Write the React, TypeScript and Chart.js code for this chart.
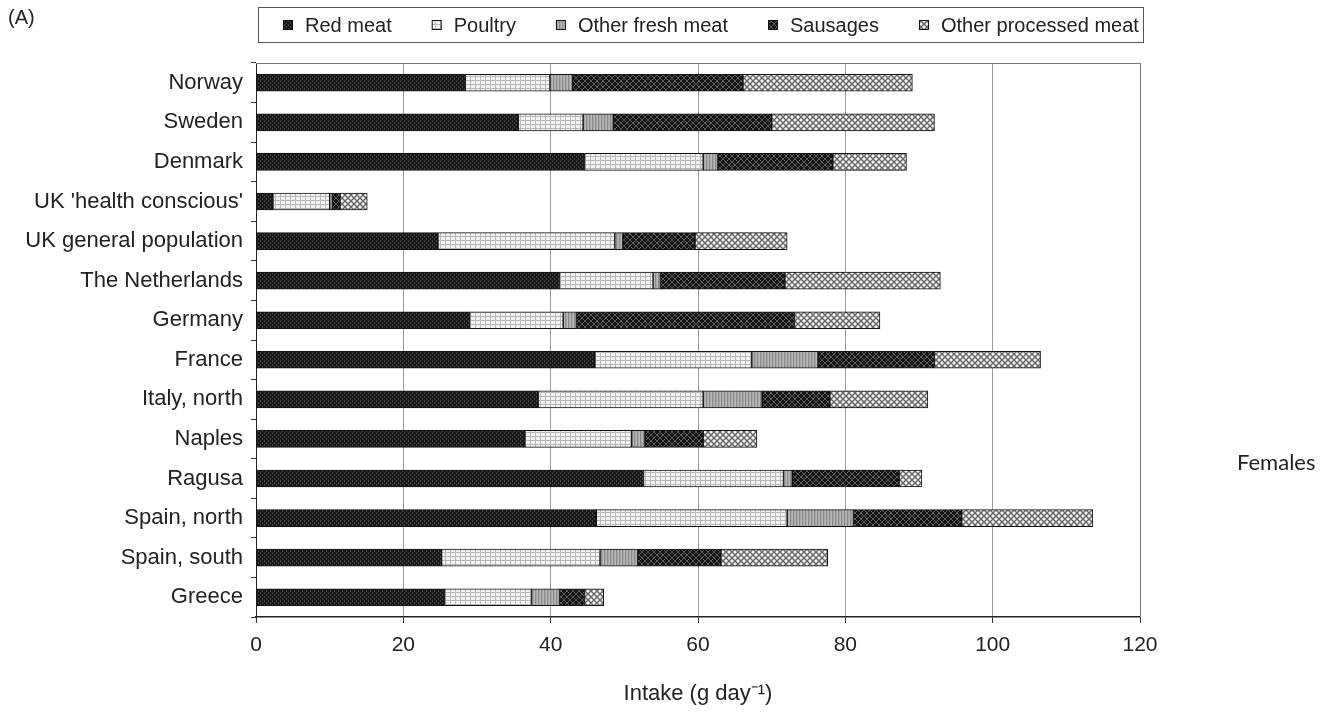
import React, { useEffect, useRef } from "react";
import { Chart, registerables } from "chart.js";

Chart.register(...registerables);

const categories = [
  "Norway",
  "Sweden",
  "Denmark",
  "UK 'health conscious'",
  "UK general population",
  "The Netherlands",
  "Germany",
  "France",
  "Italy, north",
  "Naples",
  "Ragusa",
  "Spain, north",
  "Spain, south",
  "Greece",
];

const seriesNames = ["Red meat", "Poultry", "Other fresh meat", "Sausages", "Other processed meat"];

const redMeat = [28.4, 35.6, 44.6, 2.3, 24.7, 41.2, 29.0, 46.0, 38.3, 36.5, 52.6, 46.2, 25.2, 25.6];
const poultry = [11.5, 8.8, 16.1, 7.7, 24.0, 12.7, 12.7, 21.3, 22.4, 14.5, 19.0, 25.9, 21.5, 11.8];
const otherFresh = [3.1, 4.1, 2.0, 0.4, 1.1, 1.0, 1.8, 9.0, 8.0, 1.8, 1.2, 9.0, 5.1, 3.8];
const sausages = [23.1, 21.5, 15.6, 1.0, 9.8, 16.9, 29.6, 15.8, 9.2, 7.9, 14.5, 14.7, 11.3, 3.4];
const otherProcessed = [23.0, 22.1, 10.0, 3.7, 12.5, 21.1, 11.6, 14.4, 13.3, 7.3, 3.1, 17.8, 14.5, 2.6];

const xTicks = [0, 20, 40, 60, 80, 100, 120];

const FONT = '"Liberation Sans", Arial, Helvetica, sans-serif';

function makePattern(w: number, h: number, draw: (g: CanvasRenderingContext2D) => void) {
  const c = document.createElement("canvas");
  c.width = w;
  c.height = h;
  const g = c.getContext("2d")!;
  draw(g);
  return g.createPattern(c, "repeat")!;
}

function buildPatterns() {
  const red = makePattern(4, 4, (g) => {
    g.fillStyle = "#181818";
    g.fillRect(0, 0, 4, 4);
    g.fillStyle = "#474747";
    g.fillRect(0, 0, 1, 2);
    g.fillRect(2, 2, 1, 2);
  });
  const pou = makePattern(5, 4, (g) => {
    g.fillStyle = "#f2f2f2";
    g.fillRect(0, 0, 5, 4);
    g.fillStyle = "#b8b8b8";
    g.fillRect(0, 0, 1, 4);
    g.fillRect(0, 0, 5, 1);
  });
  const fresh = makePattern(3, 1, (g) => {
    g.fillStyle = "#b8b8b8";
    g.fillRect(0, 0, 1, 1);
    g.fillStyle = "#8a8a8a";
    g.fillRect(1, 0, 1, 1);
    g.fillStyle = "#a8a8a8";
    g.fillRect(2, 0, 1, 1);
  });
  const saus = makePattern(6, 6, (g) => {
    g.fillStyle = "#151515";
    g.fillRect(0, 0, 6, 6);
    g.strokeStyle = "#5c5c5c";
    g.lineWidth = 1;
    g.beginPath();
    g.moveTo(0, 0);
    g.lineTo(6, 6);
    g.moveTo(6, 0);
    g.lineTo(0, 6);
    g.stroke();
  });
  const proc = makePattern(6, 6, (g) => {
    g.fillStyle = "#f4f4f4";
    g.fillRect(0, 0, 6, 6);
    g.strokeStyle = "#6a6a6a";
    g.lineWidth = 1.5;
    g.beginPath();
    g.moveTo(0, 0);
    g.lineTo(6, 6);
    g.moveTo(6, 0);
    g.lineTo(0, 6);
    g.stroke();
  });
  return [red, pou, fresh, saus, proc];
}

const framePlugin = {
  id: "frameAndLegend",
  afterDraw(chart: any) {
    const { ctx, chartArea } = chart;
    const { left, top, right, bottom } = chartArea;
    ctx.save();
    ctx.strokeStyle = "#777";
    ctx.lineWidth = 1;
    ctx.beginPath();
    ctx.moveTo(left, Math.round(top) + 0.5);
    ctx.lineTo(Math.round(right) + 0.5, Math.round(top) + 0.5);
    ctx.lineTo(Math.round(right) + 0.5, bottom);
    ctx.stroke();

    ctx.strokeStyle = "#555";
    ctx.strokeRect(258.5, 7.5, 885, 35);
    ctx.font = `20px ${FONT}`;
    ctx.textBaseline = "middle";
    ctx.textAlign = "left";
    let x = 283;
    const cy = 25;
    chart.data.datasets.forEach((ds: any) => {
      ctx.fillStyle = ds.backgroundColor;
      ctx.fillRect(x, cy - 5, 10, 10);
      ctx.strokeStyle = "#111";
      ctx.strokeRect(x + 0.5, cy - 4.5, 9, 9);
      ctx.fillStyle = "#222";
      ctx.fillText(ds.label, x + 22, cy + 1);
      const w = ctx.measureText(ds.label).width;
      x = x + 22 + w + 40;
    });
    ctx.restore();
  },
};

export default function App() {
  const ref = useRef<HTMLCanvasElement | null>(null);

  useEffect(() => {
    if (!ref.current) return;
    const pats = buildPatterns();
    const values = [redMeat, poultry, otherFresh, sausages, otherProcessed];
    const chart = new Chart(ref.current, {
      type: "bar",
      data: {
        labels: categories,
        datasets: seriesNames.map((name, i) => ({
          label: name,
          data: values[i],
          backgroundColor: pats[i] as any,
          borderColor: "#111",
          borderWidth: 1,
          borderSkipped: false,
          barThickness: 17,
        })),
      },
      options: {
        indexAxis: "y",
        animation: false,
        responsive: true,
        maintainAspectRatio: false,
        layout: { padding: { top: 63, right: 187, left: 0, bottom: 0 } },
        plugins: { legend: { display: false }, tooltip: { enabled: false } },
        scales: {
          x: {
            stacked: true,
            min: 0,
            max: 120,
            afterBuildTicks: (s: any) => {
              s.ticks = xTicks.map((v) => ({ value: v }));
            },
            ticks: { color: "#222", font: { family: FONT, size: 21 }, padding: 10 },
            grid: { color: "#9a9a9a", tickLength: 6, tickColor: "#333" },
            border: { display: true, color: "#222", width: 1.5 },
            title: {
              display: true,
              text: "Intake (g day⁻¹)",
              color: "#222",
              font: { family: FONT, size: 22 },
              padding: { top: 4, bottom: 6 },
            },
            afterFit: (s: any) => {
              s.height = 96;
            },
          },
          y: {
            stacked: true,
            ticks: { color: "#222", font: { family: FONT, size: 22 }, padding: 8 },
            grid: { drawOnChartArea: false, tickLength: 5, offset: true, tickColor: "#333" },
            border: { display: true, color: "#222", width: 1 },
            afterFit: (s: any) => {
              s.width = 256;
            },
          },
        },
      },
      plugins: [framePlugin],
    });
    return () => chart.destroy();
  }, []);

  return (
    <div style={{ position: "absolute", left: 0, top: 0, width: 1327, height: 713, background: "#fff" }}>
      <canvas ref={ref} style={{ width: "100%", height: "100%" }} />
      <div
        style={{
          position: "absolute",
          left: 8,
          top: 6,
          fontFamily: FONT,
          fontSize: 20,
          color: "#222",
        }}
      >
        (A)
      </div>
      <div
        style={{
          position: "absolute",
          left: 1237,
          top: 448,
          fontFamily: "Lato, 'Open Sans', sans-serif",
          fontSize: 22,
          color: "#222",
        }}
      >
        Females
      </div>
    </div>
  );
}
